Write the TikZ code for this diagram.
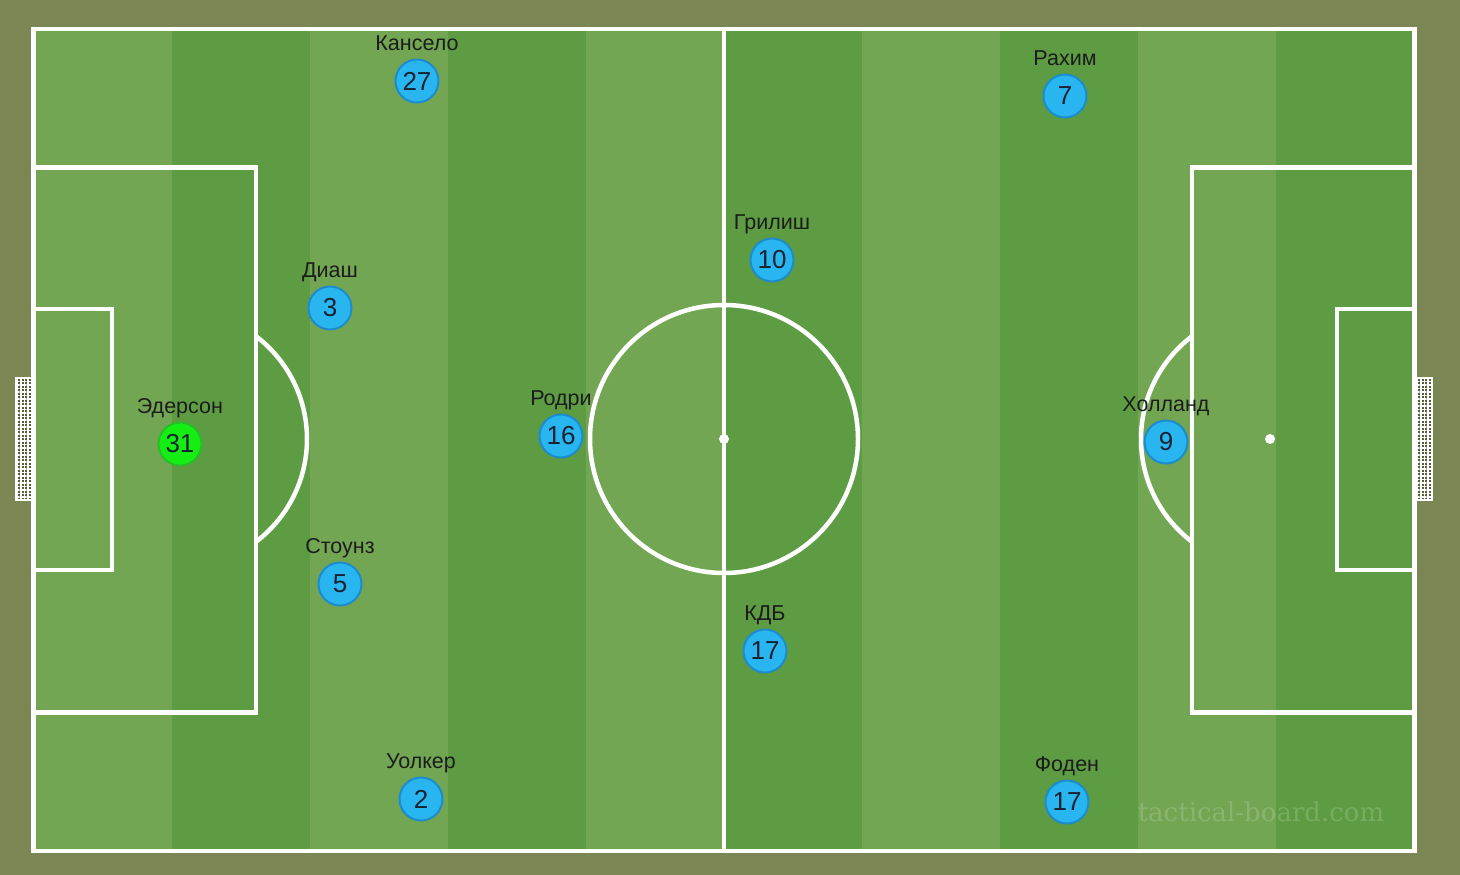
\documentclass[tikz,border=0pt]{standalone}
\usepackage{fontspec}
\setmainfont{Liberation Sans}
\newfontfamily\markfont{DejaVu Serif}
\usetikzlibrary{positioning}
\usetikzlibrary{patterns.meta}

\definecolor{boardbg}{RGB}{122,135,84}
\definecolor{grasslight}{RGB}{114,166,83}
\definecolor{grassdark}{RGB}{93,156,66}
\definecolor{playerblue}{RGB}{41,182,240}
\definecolor{playeredge}{RGB}{28,140,205}
\definecolor{keepergreen}{RGB}{20,238,20}
\definecolor{keeperedge}{RGB}{40,190,40}
\definecolor{numtext}{RGB}{22,34,48}
\definecolor{labeltext}{RGB}{28,28,28}

\begin{document}
\begin{tikzpicture}[x=1pt, y=-1pt,
    fieldline/.style={draw=white, line width=4.5pt},
    goalnet/.style={fill=boardbg!70!black, draw=white, line width=2pt},
    netlines/.style={pattern={Lines[angle=#1, distance=3.5pt, line width=1.2pt]}, pattern color=white},
    player/.style={circle, fill=playerblue, draw=playeredge, line width=2pt, minimum size=43pt, inner sep=0pt, text=numtext, font=\fontsize{26}{26}\selectfont},
    keeper/.style={player, fill=keepergreen, draw=keeperedge},
    playername/.style={inner sep=0pt, text=labeltext, text height=15pt, text depth=5pt, font=\fontsize{21.5}{21.5}\selectfont}]
        \useasboundingbox (0,0) rectangle (1460,875);
        \fill[boardbg] (0,0) rectangle (1460,875);
        % stripes
        \fill[grasslight] (34,29) rectangle (172,851);
        \fill[grassdark] (172,29) rectangle (310,851);
        \fill[grasslight] (310,29) rectangle (448,851);
        \fill[grassdark] (448,29) rectangle (586,851);
        \fill[grasslight] (586,29) rectangle (724,851);
        \fill[grassdark] (724,29) rectangle (862,851);
        \fill[grasslight] (862,29) rectangle (1000,851);
        \fill[grassdark] (1000,29) rectangle (1138,851);
        \fill[grasslight] (1138,29) rectangle (1276,851);
        \fill[grassdark] (1276,29) rectangle (1414,851);
        % goals
        \filldraw[goalnet] (16,378) rectangle (32,500);
        \fill[netlines=0] (16,378) rectangle (32,500);
        \fill[netlines=90] (16,378) rectangle (32,500);
        \draw[white, line width=2pt] (16,378) rectangle (32,500);
        \filldraw[goalnet] (1416,378) rectangle (1432,500);
        \fill[netlines=0] (1416,378) rectangle (1432,500);
        \fill[netlines=90] (1416,378) rectangle (1432,500);
        \draw[white, line width=2pt] (1416,378) rectangle (1432,500);
        % lines
        \draw[fieldline] (33.5,29) rectangle (1414.5,851);
        \draw[fieldline] (724,29) -- (724,851);
        \draw[fieldline] (724,439) circle[radius=134];
        \fill[white] (724,439) circle[radius=5];
        \draw[fieldline] (33.5,167.5) rectangle (256,712.5);
        \draw[fieldline] (33.5,309) rectangle (112,570);
        \draw[fieldline] (1192,167.5) rectangle (1414.5,712.5);
        \draw[fieldline] (1337,309) rectangle (1414.5,570);
        \fill[white] (178,439) circle[radius=5];
        \fill[white] (1270,439) circle[radius=5];
        \begin{scope}
            \clip (256,0) rectangle (500,875);
            \draw[fieldline] (178,439) circle[radius=129];
        \end{scope}
        \begin{scope}
            \clip (950,0) rectangle (1192,875);
            \draw[fieldline] (1270,439) circle[radius=129];
        \end{scope}
        \node[font=\markfont\fontsize{26}{26}\selectfont, text=white, text opacity=0.17] (watermark) at (1261,812) {tactical-board.com};
        % players
        \node[keeper] (ederson) at (180,444) {31};
        \node[playername, above=3pt of ederson] (ederson-name) {Эдерсон};
        \node[player] (cancelo) at (417,81) {27};
        \node[playername, above=3pt of cancelo] (cancelo-name) {Кансело};
        \node[player] (dias) at (330,308) {3};
        \node[playername, above=3pt of dias] (dias-name) {Диаш};
        \node[player] (stones) at (340,584) {5};
        \node[playername, above=3pt of stones] (stones-name) {Стоунз};
        \node[player] (walker) at (421,799) {2};
        \node[playername, above=3pt of walker] (walker-name) {Уолкер};
        \node[player] (rodri) at (561,436) {16};
        \node[playername, above=3pt of rodri] (rodri-name) {Родри};
        \node[player] (grealish) at (772,260) {10};
        \node[playername, above=3pt of grealish] (grealish-name) {Грилиш};
        \node[player] (kdb) at (765,651) {17};
        \node[playername, above=3pt of kdb] (kdb-name) {КДБ};
        \node[player] (sterling) at (1065,96) {7};
        \node[playername, above=3pt of sterling] (sterling-name) {Рахим};
        \node[player] (haaland) at (1166,442) {9};
        \node[playername, above=3pt of haaland] (haaland-name) {Холланд};
        \node[player] (foden) at (1067,802) {17};
        \node[playername, above=3pt of foden] (foden-name) {Фоден};
\end{tikzpicture}
\end{document}
